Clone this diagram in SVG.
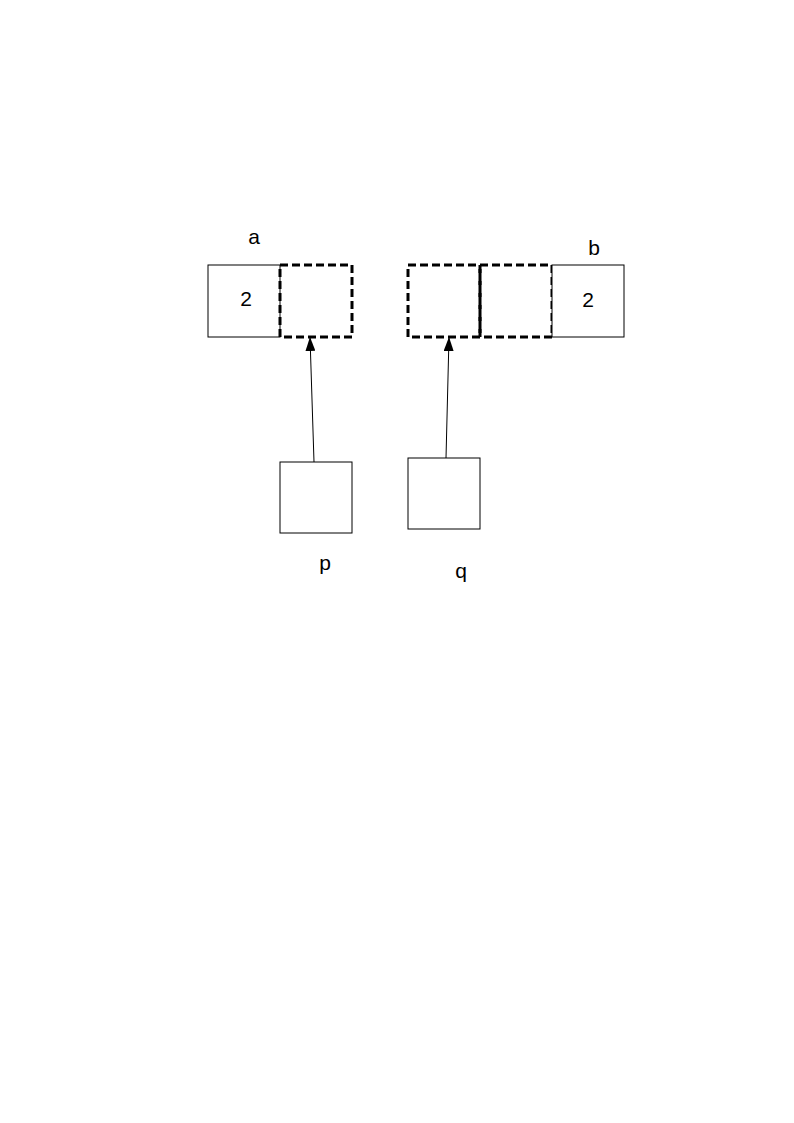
<svg xmlns="http://www.w3.org/2000/svg" width="794" height="1123" viewBox="0 0 794 1123">
<defs>
<style>
.solid{fill:#fff;stroke:#000;stroke-width:1}
.dash{fill:none;stroke:#000;stroke-width:3;stroke-dasharray:8,4}
.lbl{font-family:"Liberation Sans",Arial,sans-serif;font-size:21px;fill:#000;text-anchor:middle}
.conn{stroke:#000;stroke-width:1;fill:none}
</style>
<marker id="arr" viewBox="0 0 14 10" refX="14" refY="5" markerWidth="14" markerHeight="10" markerUnits="userSpaceOnUse" orient="auto">
<path d="M0,0 L14,5 L0,10 z" fill="#000"/>
</marker>
</defs>
<rect width="794" height="1123" fill="#fff"/>
<g id="a">
<rect class="solid" x="208" y="265" width="72" height="72"/>
<text class="lbl" x="246" y="306">2</text>
<text class="lbl" x="254" y="244">a</text>
</g>
<g id="a1">
<rect class="dash" x="280" y="265" width="72" height="72"/>
</g>
<g id="b2">
<rect class="dash" x="408" y="265" width="72" height="72"/>
</g>
<g id="b1">
<rect class="dash" x="480" y="265" width="72" height="72"/>
</g>
<g id="b">
<rect class="solid" x="552" y="265" width="72" height="72"/>
<text class="lbl" x="588" y="307">2</text>
<text class="lbl" x="594" y="255">b</text>
</g>
<g id="p">
<rect class="solid" x="280" y="462" width="72" height="71"/>
<text class="lbl" x="325" y="570">p</text>
</g>
<g id="q">
<rect class="solid" x="408" y="458" width="72" height="71"/>
<text class="lbl" x="461" y="578">q</text>
</g>
<g id="connectors">
<line class="conn" x1="314" y1="462" x2="310" y2="337" marker-end="url(#arr)"/>
<line class="conn" x1="446" y1="458" x2="449" y2="337" marker-end="url(#arr)"/>
</g>
</svg>
